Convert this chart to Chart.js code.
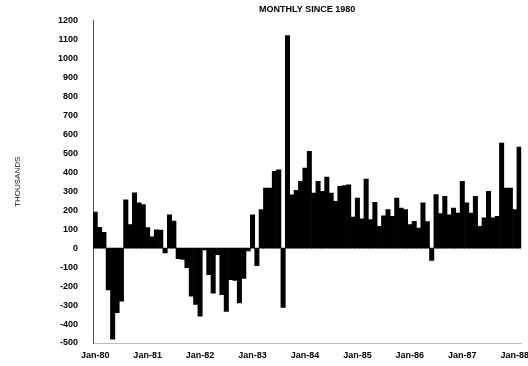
<!DOCTYPE html>
<html>
<head>
<meta charset="utf-8">
<script src="https://cdn.jsdelivr.net/npm/chart.js@4/dist/chart.umd.min.js"></script>
<style>
  html, body { margin: 0; padding: 0; background: #fff; overflow: hidden; }
  #wrap { width: 528px; height: 366px; }
</style>
</head>
<body>
<div id="wrap"><canvas id="c" width="528" height="366"></canvas></div>
<script>
// Monthly change in payroll employment, thousands, Jan 1980 - Feb 1988
const chartTitle = 'MONTHLY SINCE 1980';
const axisTitle = 'THOUSANDS';

const monthNames = ['Jan', 'Feb', 'Mar', 'Apr', 'May', 'Jun', 'Jul', 'Aug', 'Sep', 'Oct', 'Nov', 'Dec'];
const years = ['80', '81', '82', '83', '84', '85', '86', '87', '88'];

const chg1980 = [190, 110, 83, -220, -480, -340, -280, 255, 124, 291, 238, 229];
const chg1981 = [108, 59, 97, 95, -25, 176, 143, -55, -60, -103, -253, -297];
const chg1982 = [-358, -10, -140, -237, -35, -245, -333, -166, -170, -289, -160, -15];
const chg1983 = [176, -92, 203, 317, 317, 404, 412, -313, 1120, 281, 304, 352];
const chg1984 = [422, 510, 290, 352, 299, 375, 290, 246, 325, 330, 333, 164];
const chg1985 = [264, 154, 364, 150, 241, 115, 170, 203, 167, 264, 211, 203];
const chg1986 = [124, 141, 106, 238, 140, -65, 282, 182, 273, 176, 211, 185];
const chg1987 = [352, 238, 185, 273, 115, 159, 299, 159, 167, 554, 317, 317];
const chg1988 = [203, 533];

const tickLabels = ['Jan-80', 'Jan-81', 'Jan-82', 'Jan-83', 'Jan-84', 'Jan-85', 'Jan-86', 'Jan-87', 'Jan-88'];

const values = [].concat(chg1980, chg1981, chg1982, chg1983, chg1984, chg1985, chg1986, chg1987, chg1988);
const categories = [];
years.forEach(y => monthNames.forEach(m => categories.push(m + '-' + y)));
categories.length = values.length;

const FONT = '"Liberation Sans", Arial, sans-serif';

new Chart(document.getElementById('c'), {
  type: 'bar',
  data: {
    labels: categories,
    datasets: [{
      data: values,
      backgroundColor: '#000',
      borderWidth: 0,
      barPercentage: 1,
      categoryPercentage: 1
    }]
  },
  options: {
    responsive: false,
    animation: false,
    devicePixelRatio: 1,
    layout: { padding: { left: 0, right: 6.7, top: 0, bottom: 0 } },
    plugins: {
      legend: { display: false },
      tooltip: { enabled: false },
      title: {
        display: true,
        fullSize: false,
        text: chartTitle,
        color: '#000',
        font: { family: FONT, size: 9, weight: 'bold' },
        padding: { top: 3.5, bottom: 5.7 }
      }
    },
    scales: {
      x: {
        grid: { display: false, drawTicks: false },
        border: { display: true, color: '#bbb', dash: [1, 6] },
        ticks: {
          autoSkip: false,
          maxRotation: 0,
          minRotation: 0,
          padding: 7,
          color: '#000',
          font: { family: FONT, size: 9, weight: 'bold' },
          callback: function (v) {
            const l = this.getLabelForValue(v);
            return tickLabels.includes(l) ? l : '';
          }
        },
        afterFit: s => { s.height = 23; }
      },
      y: {
        min: -500,
        max: 1200,
        grid: { display: false, drawTicks: false },
        border: { display: true, color: '#555', width: 1 },
        ticks: {
          stepSize: 100,
          padding: 15,
          color: '#000',
          font: { family: FONT, size: 9, weight: 'bold' },
          callback: v => String(v)
        },
        title: {
          display: true,
          text: axisTitle,
          color: '#111',
          font: { family: FONT, size: 8 },
          padding: { top: 13, bottom: 0 }
        },
        afterFit: s => { s.width = 93; }
      }
    }
  }
});
</script>
</body>
</html>
